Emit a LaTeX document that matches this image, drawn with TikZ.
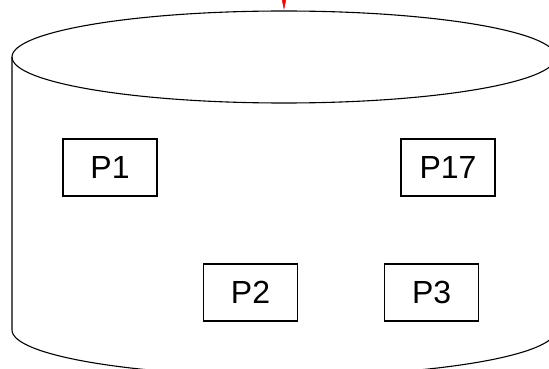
\documentclass[tikz,border=0pt]{standalone}
\usepackage{fontspec}
\setmainfont{Liberation Sans}
\usepackage{tikz}
\usetikzlibrary{arrows.meta,positioning}
\definecolor{pageRed}{HTML}{FF0000}

\begin{document}
\begin{tikzpicture}[x=1pt,y=-1pt,line width=1.1pt,
    pagebox/.style={draw=black,fill=white,line width=1.1pt,minimum width=94pt,
                    minimum height=57pt,inner sep=0pt,
                    font=\fontsize{32}{36}\selectfont}]
  \useasboundingbox (0,0) rectangle (549,369);
  \clip (0,0) rectangle (549,369);
  % disk drum
  \draw[fill=white] (284,57) ellipse [x radius=272, y radius=46];
  \draw (12,57) -- (12,330)
        arc [start angle=180, end angle=0, x radius=272, y radius=46]
        -- (556,57);
  % pages on the drum
  \node[pagebox] (p1)  at (110,167.5) {P1};
  \node[pagebox] (p17) at (448,167.5) {P17};
  \node[pagebox] (p2)  at (250.5,292.5) {P2};
  \node[pagebox] (p3)  at (431.7,292.5) {P3};
  % incoming request
  \coordinate (reqTop) at (284,-30);
  \coordinate (drumTop) at (284,10);
  \draw[pageRed,line width=0.6pt,-{Triangle[length=20pt,width=8pt]}] (reqTop) -- (drumTop);
\end{tikzpicture}
\end{document}
